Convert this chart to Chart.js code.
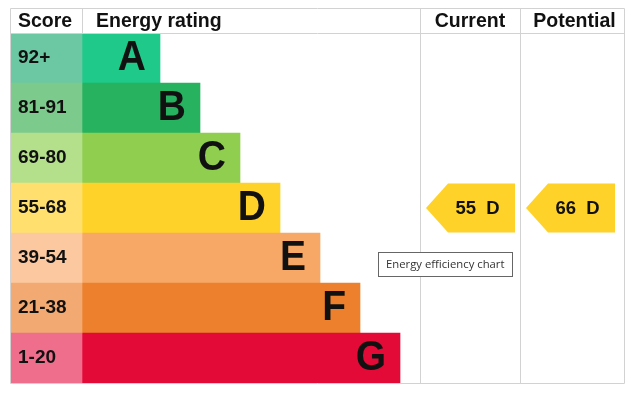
<!DOCTYPE html>
<html>
<head>
<meta charset="utf-8">
<script src="https://cdn.jsdelivr.net/npm/chart.js@4"></script>
<style>
  html, body { margin: 0; padding: 0; background: #fff; }
  #wrap { width: 632px; height: 397px; position: relative; }
</style>
</head>
<body>
<div id="wrap"><canvas id="epc"></canvas></div>
<script>
// bands, top to bottom
var bandLetters = ["A", "B", "C", "D", "E", "F", "G"];
var scoreRanges = ["92+", "81-91", "69-80", "55-68", "39-54", "21-38", "1-20"];
var bandMins = [92, 81, 69, 55, 39, 21, 1];
// bar lengths (x units, score column ends at 7.2)
var barEnds = [15, 19, 23, 27, 31, 35, 39];
var bandColors = ["#1ec98a", "#26b25e", "#8fce4e", "#ffd22a", "#f8a866", "#ec802c", "#e40a37"];
var scoreColors = ["#6cc8a2", "#7cca8c", "#b4e08c", "#ffe06e", "#fcc8a0", "#f2aa72", "#ee6e8c"];
var currentScore = 55;
var potentialScore = 66;
// column edges in x units
var scoreColEnd = 7.2;
var currentCol = [41, 51];
var potentialCol = [51, 61.5];

var FONT = "Liberation Sans";

function bandOf(score) {
    for (var i = 0; i < bandMins.length; i++) {
        if (score >= bandMins[i]) return i;
    }
    return bandMins.length - 1;
}

var epcPlugin = {
    id: "epc",
    afterDatasetsDraw: function(chart) {
        var ctx = chart.ctx;
        var x = chart.scales.x, y = chart.scales.y;
        var area = chart.chartArea;
        var top = 8;
        var xs = x.getPixelForValue(scoreColEnd);
        var xc = x.getPixelForValue(currentCol[0]);
        var xp = x.getPixelForValue(potentialCol[0]);
        var rowH = y.getPixelForValue(1) - y.getPixelForValue(0);

        // grid lines
        ctx.save();
        ctx.strokeStyle = "#d2d2d2";
        ctx.lineWidth = 1;
        ctx.beginPath();
        ctx.rect(area.left + 0.5, top + 0.5, area.right - area.left - 1, area.bottom - top);
        ctx.moveTo(area.left, area.top + 0.5); ctx.lineTo(area.right, area.top + 0.5);
        ctx.moveTo(xs + 0.5, top); ctx.lineTo(xs + 0.5, area.top);
        ctx.moveTo(xc + 0.5, top); ctx.lineTo(xc + 0.5, area.bottom);
        ctx.moveTo(xp + 0.5, top); ctx.lineTo(xp + 0.5, area.bottom);
        ctx.stroke();

        // header
        ctx.fillStyle = "#111";
        ctx.font = "bold 19.5px \"" + FONT + "\"";
        ctx.textBaseline = "middle";
        var hy = (top + area.top) / 2 + 1;
        ctx.textAlign = "left";
        ctx.fillText("Score", area.left + 8, hy);
        ctx.fillText("Energy rating", xs + 14, hy);
        ctx.textAlign = "center";
        ctx.fillText("Current", (xc + xp) / 2, hy);
        ctx.fillText("Potential", (xp + area.right) / 2 + 2, hy);

        // score labels and band letters
        for (var i = 0; i < bandLetters.length; i++) {
            var cy = y.getPixelForValue(i);
            ctx.textAlign = "left";
            ctx.font = "bold 19px \"" + FONT + "\"";
            ctx.fillText(scoreRanges[i], area.left + 8, cy);
            ctx.save();
            ctx.translate(x.getPixelForValue(barEnds[i]) - 14, cy);
            ctx.scale(1, 1.08);
            ctx.textAlign = "right";
            ctx.font = "bold 39px \"" + FONT + "\"";
            ctx.fillText(bandLetters[i], 0, 0);
            ctx.restore();
        }

        // rating arrows
        function arrow(score, col) {
            var b = bandOf(score);
            var cy = y.getPixelForValue(b);
            var h = rowH - 1;
            var tip = x.getPixelForValue(col[0]) + 6;
            var right = x.getPixelForValue(col[0]) + 95;
            var body = tip + 22;
            ctx.fillStyle = bandColors[b];
            ctx.beginPath();
            ctx.moveTo(tip, cy);
            ctx.lineTo(body, cy - h / 2);
            ctx.lineTo(right, cy - h / 2);
            ctx.lineTo(right, cy + h / 2);
            ctx.lineTo(body, cy + h / 2);
            ctx.closePath();
            ctx.fill();
            ctx.fillStyle = "#111";
            ctx.font = "bold 18.5px \"" + FONT + "\"";
            ctx.textAlign = "center";
            ctx.fillText(score + "  " + bandLetters[b], (body + right) / 2 - 4, cy + 1);
        }
        arrow(currentScore, currentCol);
        arrow(potentialScore, potentialCol);

        // hover title box
        ctx.fillStyle = "#fff";
        ctx.fillRect(378.5, 252.5, 134, 24);
        ctx.strokeStyle = "#666";
        ctx.strokeRect(378.5, 252.5, 134, 24);
        ctx.fillStyle = "#333";
        ctx.font = "11.3px \"Open Sans\"";
        ctx.textAlign = "left";
        ctx.fillText("Energy efficiency chart", 386, 265);
        ctx.restore();
    }
};

var chart = new Chart(document.getElementById("epc"), {
    type: "bar",
    data: {
        labels: bandLetters,
        datasets: [
            {
                data: scoreRanges.map(function() { return [0, scoreColEnd]; }),
                backgroundColor: scoreColors
            },
            {
                data: barEnds.map(function(e) { return [scoreColEnd, e]; }),
                backgroundColor: bandColors
            }
        ]
    },
    options: {
        indexAxis: "y",
        responsive: true,
        maintainAspectRatio: false,
        animation: false,
        layout: { padding: { left: 10, right: 7, top: 33, bottom: 14 } },
        datasets: { bar: { grouped: false, barPercentage: 1, categoryPercentage: 1, borderWidth: 0 } },
        scales: {
            x: { display: false, min: 0, max: 61.5 },
            y: { display: false }
        },
        plugins: {
            legend: { display: false },
            tooltip: { enabled: false }
        }
    },
    plugins: [epcPlugin]
});

if (document.fonts) {
    document.fonts.load("bold 20px \"" + FONT + "\"").then(function() { chart.update(); });
}
</script>
</body>
</html>
